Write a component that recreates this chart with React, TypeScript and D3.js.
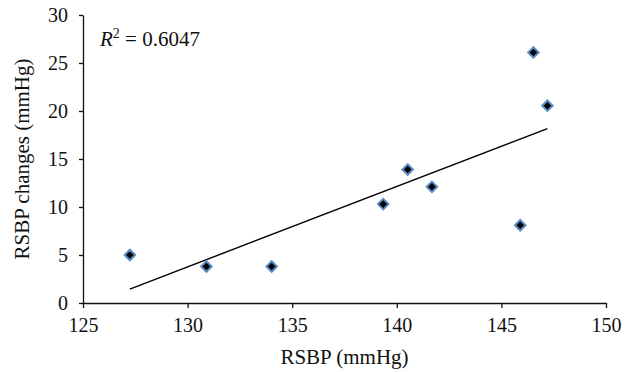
import React, { useEffect, useRef } from 'react';
import * as d3 from 'd3';

// RSBP (mmHg) vs RSBP changes (mmHg)
const rsbp = [127.24, 130.9, 134.02, 139.35, 140.52, 141.68, 145.9, 146.53, 147.2];
const rsbpChange = [5.0, 3.8, 3.8, 10.3, 13.9, 12.1, 8.1, 26.1, 20.55];
const xTicks = [125, 130, 135, 140, 145, 150];
const yTicks = [0, 5, 10, 15, 20, 25, 30];

export default function App() {
  const svgRef = useRef<SVGSVGElement>(null);

  useEffect(() => {
    const width = 633;
    const height = 372;
    const margin = { top: 15, right: 27, bottom: 69, left: 83 };
    const font = '"Liberation Serif", "Times New Roman", serif';

    const svg = d3.select(svgRef.current);
    svg.selectAll('*').remove();
    svg.attr('width', width).attr('height', height);

    const x = d3.scaleLinear().domain([125, 150]).range([margin.left, width - margin.right]);
    const y = d3.scaleLinear().domain([0, 30]).range([height - margin.bottom, margin.top]);

    // axes
    const xAxis = svg.append('g')
      .attr('transform', `translate(0,${height - margin.bottom})`)
      .call(d3.axisBottom(x).tickValues(xTicks).tickSize(5).tickSizeOuter(0).tickPadding(10));
    const yAxis = svg.append('g')
      .attr('transform', `translate(${margin.left},0)`)
      .call(d3.axisLeft(y).tickValues(yTicks).tickSize(4).tickSizeOuter(0).tickPadding(11));

    [xAxis, yAxis].forEach(g => {
      g.selectAll('text').attr('font-family', font).attr('font-size', 20).attr('fill', '#111');
      g.selectAll('line').attr('stroke', '#111').attr('stroke-width', 1.3);
      g.select('.domain').attr('stroke', '#111').attr('stroke-width', 1.3);
    });

    // least squares trend line
    const n = rsbp.length;
    const mx = d3.mean(rsbp) as number;
    const my = d3.mean(rsbpChange) as number;
    let sxy = 0, sxx = 0;
    for (let i = 0; i < n; i++) {
      sxy += (rsbp[i] - mx) * (rsbpChange[i] - my);
      sxx += (rsbp[i] - mx) ** 2;
    }
    const slope = sxy / sxx;
    const icpt = my - slope * mx;
    const [x0, x1] = d3.extent(rsbp) as [number, number];

    svg.append('line')
      .attr('x1', x(x0)).attr('y1', y(icpt + slope * x0))
      .attr('x2', x(x1)).attr('y2', y(icpt + slope * x1))
      .attr('stroke', '#000')
      .attr('stroke-width', 1.4);

    // points
    const diamond = d3.symbol().type(d3.symbolDiamond2).size(70);
    svg.append('g')
      .selectAll('path')
      .data(rsbp)
      .join('path')
      .attr('d', diamond)
      .attr('transform', (d, i) => `translate(${x(d)},${y(rsbpChange[i])})`)
      .attr('fill', '#000')
      .attr('stroke', '#5a8ac6')
      .attr('stroke-width', 2);

    // R^2 label
    const r2 = svg.append('text')
      .attr('x', 100)
      .attr('y', 46)
      .attr('font-family', font)
      .attr('font-size', 21)
      .attr('fill', '#111');
    r2.append('tspan').attr('font-style', 'italic').text('R');
    r2.append('tspan').attr('font-size', 14).attr('dy', -8).text('2');
    r2.append('tspan').attr('dy', 8).text(' = 0.6047');

    // axis labels
    svg.append('text')
      .attr('x', (margin.left + width - margin.right) / 2)
      .attr('y', 364)
      .attr('text-anchor', 'middle')
      .attr('font-family', font)
      .attr('font-size', 21)
      .attr('fill', '#111')
      .text('RSBP (mmHg)');

    svg.append('text')
      .attr('transform', `translate(29,${(margin.top + height - margin.bottom) / 2}) rotate(-90)`)
      .attr('text-anchor', 'middle')
      .attr('font-family', font)
      .attr('font-size', 21)
      .attr('fill', '#111')
      .text('RSBP changes (mmHg)');
  }, []);

  return <svg ref={svgRef} style={{ position: 'absolute', left: 0, top: 0, background: '#fff' }}></svg>;
}
